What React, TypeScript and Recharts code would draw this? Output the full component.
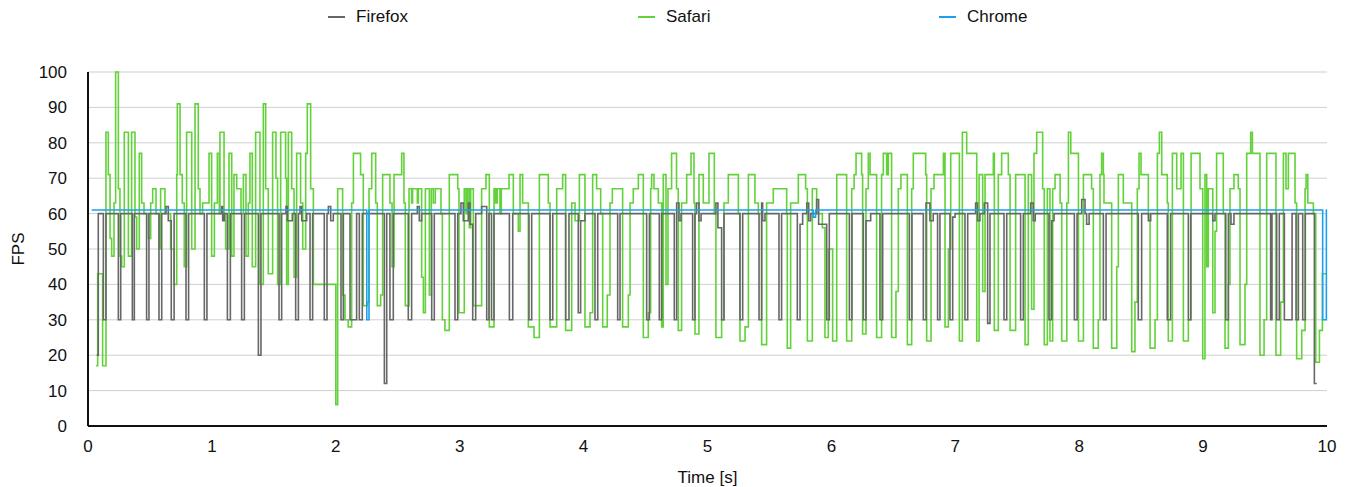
import React from 'react';
import { LineChart, Line, XAxis, YAxis, CartesianGrid, Label } from 'recharts';

// frame times [s] and fps (step after)
const firefoxT = [0.07, 0.083, 0.124, 0.145, 0.245, 0.264, 0.358, 0.374, 0.473, 0.492, 0.573, 0.595, 0.63, 0.648, 0.672, 0.695, 0.791, 0.812, 0.939, 0.96, 1.079, 1.087, 1.1, 1.125, 1.149, 1.24, 1.262, 1.375, 1.396, 1.542, 1.563, 1.598, 1.609, 1.649, 1.676, 1.698, 1.711, 1.725, 1.765, 1.792, 1.813, 1.907, 1.929, 1.94, 1.959, 1.98, 2.042, 2.061, 2.115, 2.168, 2.19, 2.214, 2.392, 2.411, 2.437, 2.464, 2.585, 2.612, 2.658, 2.674, 2.693, 2.774, 2.795, 2.962, 2.984, 3.01, 3.029, 3.069, 3.083, 3.105, 3.129, 3.177, 3.218, 3.236, 3.257, 3.277, 3.401, 3.428, 3.559, 3.581, 3.729, 3.751, 3.855, 3.882, 3.957, 3.976, 4.011, 4.092, 4.114, 4.275, 4.294, 4.509, 4.531, 4.611, 4.63, 4.732, 4.751, 4.77, 4.786, 4.88, 4.899, 4.912, 4.931, 4.948, 5.068, 5.084, 5.114, 5.133, 5.262, 5.284, 5.416, 5.437, 5.445, 5.464, 5.577, 5.598, 5.725, 5.747, 5.768, 5.801, 5.817, 5.833, 5.881, 5.897, 5.962, 5.983, 6.145, 6.166, 6.258, 6.279, 6.317, 6.392, 6.414, 6.629, 6.65, 6.742, 6.764, 6.795, 6.822, 6.857, 6.876, 6.957, 6.979, 6.998, 7.078, 7.1, 7.164, 7.18, 7.199, 7.234, 7.261, 7.28, 7.393, 7.415, 7.527, 7.549, 7.608, 7.629, 7.645, 7.756, 7.778, 7.797, 7.961, 7.983, 8.02, 8.047, 8.06, 8.08, 8.195, 8.217, 8.477, 8.504, 8.558, 8.577, 8.711, 8.738, 8.881, 8.9, 9.078, 9.096, 9.183, 9.204, 9.225, 9.249, 9.545, 9.556, 9.594, 9.615, 9.656, 9.718, 9.75, 9.769, 9.804, 9.825, 9.898, 9.917];
const firefoxFps = [20, 60, 30, 60, 30, 60, 30, 60, 30, 60, 30, 60, 62, 58, 30, 60, 30, 60, 30, 60, 62, 58, 60, 30, 60, 30, 60, 20, 60, 30, 60, 62, 58, 60, 30, 60, 62, 58, 60, 30, 60, 30, 60, 62, 58, 60, 30, 60, 30, 60, 30, 60, 12, 60, 30, 60, 30, 60, 62, 58, 60, 30, 60, 30, 60, 63, 58, 63, 57, 30, 60, 62, 30, 60, 30, 60, 30, 60, 30, 60, 30, 60, 30, 60, 32, 58, 60, 30, 60, 30, 60, 30, 60, 30, 60, 30, 63, 58, 60, 30, 60, 63, 58, 60, 63, 56, 30, 60, 30, 60, 30, 63, 58, 60, 30, 60, 30, 57, 60, 63, 58, 60, 64, 57, 30, 60, 30, 60, 30, 58, 60, 30, 60, 30, 60, 30, 63, 58, 60, 30, 60, 30, 59, 60, 30, 60, 63, 58, 60, 63, 29, 60, 30, 60, 30, 60, 63, 58, 60, 30, 58, 60, 30, 60, 64, 60, 57, 60, 30, 60, 30, 60, 58, 60, 30, 60, 30, 60, 58, 60, 30, 60, 57, 60, 30, 60, 30, 60, 30, 60, 30, 60, 30, 60, 12, 12];

const safariT = [0.065, 0.078, 0.118, 0.145, 0.164, 0.178, 0.191, 0.21, 0.223, 0.245, 0.258, 0.272, 0.293, 0.326, 0.352, 0.379, 0.393, 0.414, 0.433, 0.452, 0.487, 0.506, 0.522, 0.549, 0.573, 0.586, 0.621, 0.667, 0.694, 0.716, 0.721, 0.743, 0.761, 0.777, 0.796, 0.837, 0.864, 0.89, 0.904, 0.925, 0.977, 0.998, 1.02, 1.044, 1.06, 1.065, 1.098, 1.111, 1.138, 1.16, 1.178, 1.2, 1.235, 1.254, 1.275, 1.294, 1.307, 1.326, 1.353, 1.388, 1.415, 1.434, 1.455, 1.49, 1.517, 1.53, 1.555, 1.595, 1.603, 1.617, 1.644, 1.663, 1.684, 1.716, 1.733, 1.757, 1.77, 1.797, 1.819, 2.0, 2.015, 2.055, 2.074, 2.1, 2.128, 2.142, 2.2, 2.222, 2.255, 2.268, 2.29, 2.322, 2.335, 2.362, 2.378, 2.437, 2.454, 2.47, 2.532, 2.55, 2.561, 2.591, 2.612, 2.62, 2.658, 2.666, 2.693, 2.707, 2.723, 2.755, 2.771, 2.787, 2.803, 2.849, 2.86, 2.881, 2.916, 2.984, 2.994, 3.037, 3.051, 3.064, 3.078, 3.089, 3.11, 3.177, 3.212, 3.239, 3.277, 3.29, 3.303, 3.325, 3.336, 3.398, 3.433, 3.473, 3.487, 3.508, 3.554, 3.6, 3.643, 3.715, 3.729, 3.783, 3.831, 3.855, 3.904, 3.931, 3.966, 4.011, 4.052, 4.073, 4.105, 4.138, 4.154, 4.191, 4.213, 4.232, 4.315, 4.361, 4.375, 4.401, 4.442, 4.482, 4.522, 4.541, 4.549, 4.568, 4.603, 4.63, 4.643, 4.665, 4.681, 4.71, 4.75, 4.764, 4.791, 4.832, 4.867, 4.891, 4.899, 4.931, 4.966, 5.012, 5.055, 5.068, 5.114, 5.133, 5.168, 5.249, 5.262, 5.303, 5.33, 5.383, 5.41, 5.437, 5.477, 5.531, 5.639, 5.644, 5.671, 5.733, 5.792, 5.806, 5.846, 5.881, 5.927, 5.948, 5.975, 6.01, 6.043, 6.123, 6.164, 6.183, 6.199, 6.244, 6.252, 6.279, 6.298, 6.312, 6.365, 6.405, 6.419, 6.446, 6.459, 6.486, 6.521, 6.54, 6.561, 6.613, 6.648, 6.661, 6.761, 6.769, 6.804, 6.828, 6.904, 6.917, 6.944, 6.963, 7.033, 7.057, 7.092, 7.173, 7.192, 7.221, 7.24, 7.307, 7.315, 7.347, 7.374, 7.428, 7.442, 7.487, 7.563, 7.589, 7.616, 7.635, 7.657, 7.705, 7.718, 7.743, 7.764, 7.786, 7.805, 7.846, 7.859, 7.9, 7.913, 7.932, 7.994, 8.034, 8.1, 8.114, 8.154, 8.168, 8.181, 8.195, 8.2, 8.262, 8.303, 8.316, 8.356, 8.424, 8.45, 8.469, 8.483, 8.499, 8.558, 8.572, 8.612, 8.631, 8.647, 8.666, 8.711, 8.719, 8.752, 8.787, 8.822, 8.841, 8.881, 8.903, 8.975, 8.997, 9.015, 9.029, 9.042, 9.078, 9.096, 9.109, 9.163, 9.177, 9.204, 9.217, 9.249, 9.284, 9.298, 9.338, 9.352, 9.384, 9.398, 9.459, 9.492, 9.513, 9.588, 9.626, 9.648, 9.669, 9.688, 9.742, 9.755, 9.796, 9.823, 9.831, 9.845, 9.89, 9.909, 9.939, 9.963, 10];
const safariFps = [17, 43, 17, 83, 71, 53, 48, 63, 100, 67, 48, 45, 83, 48, 83, 59, 50, 77, 63, 60, 53, 63, 67, 60, 50, 67, 60, 50, 40, 71, 91, 71, 63, 45, 83, 50, 91, 67, 60, 63, 77, 48, 63, 77, 60, 83, 60, 50, 77, 48, 71, 67, 60, 71, 48, 63, 77, 45, 83, 40, 91, 67, 43, 83, 70, 40, 83, 70, 40, 83, 67, 42, 77, 63, 50, 77, 91, 67, 40, 6, 67, 37, 30, 28, 63, 77, 71, 34, 35, 67, 77, 63, 34, 37, 71, 63, 45, 71, 77, 63, 34, 67, 63, 67, 63, 67, 42, 32, 67, 37, 67, 63, 67, 60, 30, 27, 71, 67, 32, 67, 60, 67, 56, 67, 34, 67, 71, 28, 67, 63, 67, 60, 67, 71, 60, 55, 71, 63, 28, 25, 71, 63, 28, 67, 71, 27, 63, 58, 71, 28, 32, 71, 67, 60, 28, 37, 63, 67, 28, 37, 63, 67, 71, 25, 32, 67, 71, 67, 63, 28, 71, 40, 67, 77, 67, 27, 63, 71, 77, 63, 26, 71, 63, 77, 60, 25, 30, 63, 71, 60, 24, 28, 71, 63, 60, 23, 63, 67, 60, 22, 63, 71, 67, 24, 67, 60, 56, 25, 50, 24, 71, 24, 67, 71, 77, 71, 26, 67, 77, 71, 25, 71, 77, 71, 77, 25, 38, 67, 71, 23, 67, 77, 71, 24, 67, 71, 77, 28, 50, 77, 24, 83, 77, 24, 71, 38, 71, 77, 27, 71, 77, 71, 27, 71, 23, 71, 33, 77, 83, 67, 23, 67, 24, 67, 71, 63, 24, 63, 83, 77, 24, 71, 67, 22, 30, 71, 77, 71, 63, 22, 45, 71, 63, 21, 35, 67, 77, 71, 60, 22, 30, 77, 83, 71, 63, 24, 77, 67, 77, 24, 30, 77, 67, 19, 71, 45, 67, 32, 55, 77, 60, 22, 40, 67, 71, 67, 23, 40, 77, 83, 77, 20, 30, 77, 20, 35, 77, 67, 77, 63, 19, 27, 67, 71, 63, 60, 18, 27, 43, 43];

const chromeT = [0.03, 2.25, 2.268, 5.853, 5.872, 9.965, 9.995, 10];
const chromeFps = [61, 30, 61, 59, 61, 30, 61, 61];

const xTicks = [0, 1, 2, 3, 4, 5, 6, 7, 8, 9, 10];
const yTicks = [0, 10, 20, 30, 40, 50, 60, 70, 80, 90, 100];

const series = [
  { name: 'Firefox', color: '#676767', t: firefoxT, fps: firefoxFps },
  { name: 'Safari', color: '#62d23a', t: safariT, fps: safariFps },
  { name: 'Chrome', color: '#1d9ff0', t: chromeT, fps: chromeFps },
];

const toRows = (t: number[], fps: number[]) => t.map((x, i) => ({ t: x, fps: fps[i] }));

const FONT = '"Liberation Sans", Arial, Helvetica, sans-serif';
const legendLeft = [328, 638, 939];

const FpsLabel = ({ viewBox }: any) => (
  <text
    x={18}
    y={viewBox.y + viewBox.height / 2}
    transform={`rotate(-90, 18, ${viewBox.y + viewBox.height / 2})`}
    textAnchor="middle"
    dominantBaseline="central"
    fontSize={17}
    fill="#111"
  >
    FPS
  </text>
);

export default function App() {
  const drawOrder = [series[1], series[0], series[2]];
  return (
    <div style={{ position: 'absolute', left: 0, top: 0, width: 1351, height: 487, background: '#fff', fontFamily: FONT }}>
      {series.map((s, i) => (
        <div key={s.name} style={{ position: 'absolute', left: legendLeft[i], top: 6, height: 22, display: 'flex', alignItems: 'center', fontSize: 17, color: '#111' }}>
          <span style={{ display: 'inline-block', width: 17, height: 2, background: s.color, marginRight: 11 }} />
          {s.name}
        </div>
      ))}
      <LineChart width={1351} height={487} margin={{ top: 72, right: 24, bottom: 0, left: 0 }} style={{ fontFamily: FONT }}>
        <CartesianGrid vertical={false} stroke="#cfcfcf" strokeWidth={1} />
        <XAxis
          dataKey="t"
          type="number"
          domain={[0, 10]}
          ticks={xTicks}
          height={61}
          tickLine={false}
          tickMargin={8}
          axisLine={{ stroke: '#111', strokeWidth: 2 }}
          tick={{ fill: '#111', fontSize: 17 }}
          allowDuplicatedCategory={false}
        >
          <Label value="Time [s]" position="insideBottom" offset={4} fill="#111" fontSize={17} />
        </XAxis>
        <YAxis
          type="number"
          domain={[0, 100]}
          ticks={yTicks}
          width={88}
          tickLine={false}
          tickMargin={15}
          axisLine={{ stroke: '#111', strokeWidth: 2 }}
          tick={{ fill: '#111', fontSize: 17 }}
        >
          <Label content={<FpsLabel />} />
        </YAxis>
        {drawOrder.map((s) => (
          <Line
            key={s.name}
            name={s.name}
            data={toRows(s.t, s.fps)}
            dataKey="fps"
            type="stepAfter"
            stroke={s.color}
            strokeWidth={1.6}
            dot={false}
            activeDot={false}
            isAnimationActive={false}
          />
        ))}
      </LineChart>
    </div>
  );
}
